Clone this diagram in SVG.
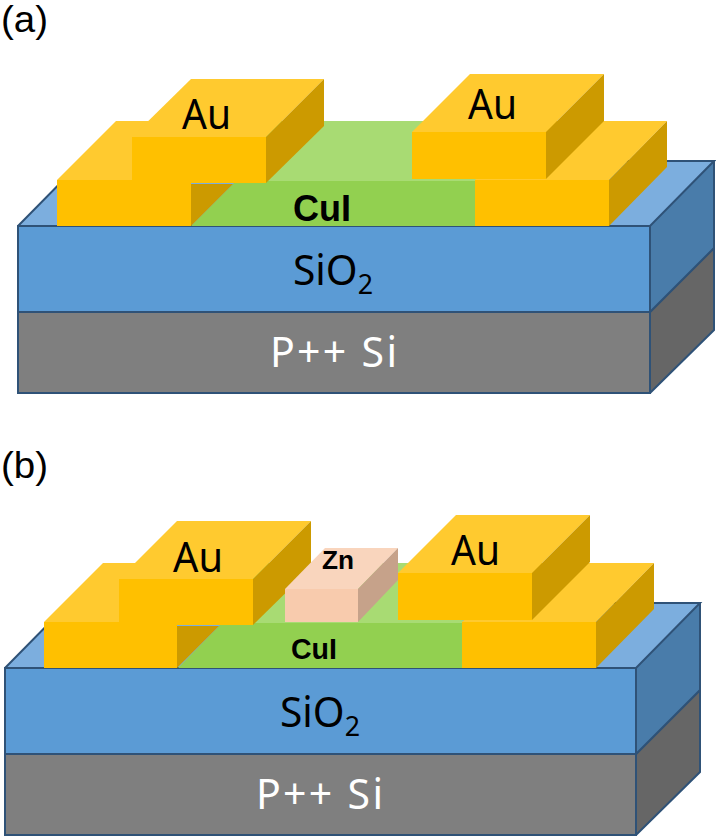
<svg xmlns="http://www.w3.org/2000/svg" width="716" height="839" viewBox="0 0 716 839">
<style>
text{font-family:"Noto Sans","Open Sans","Liberation Sans",sans-serif}
.st{fill:#7CAEDE}.sf{fill:#5B9BD5}.ss{fill:#497CAA}.gf{fill:#7F7F7F}.gs{fill:#666666}
.ol{fill:none;stroke:#2F5277;stroke-width:2;stroke-linejoin:miter}
.at{fill:#FFCA2F}.af{fill:#FFC000}.as{fill:#CC9A00}
.ct{fill:#A8DB73}.cf{fill:#92D050}
.zt{fill:#F9D5BD}.zf{fill:#F8CBAD}.zs{fill:#C6A28A}
.au{font-size:41px;fill:#000}.lb{font-size:41px}
.pl{font-size:36px;fill:#000;font-family:"Liberation Sans",Arial,sans-serif}
.bd{font-family:"Liberation Sans",Arial,sans-serif;font-weight:700;fill:#000}
</style>
<g id="label-a"><text class="pl" x="1" y="32" textLength="47" lengthAdjust="spacingAndGlyphs">(a)</text></g>
<g id="si-a">
<polygon class="gf" points="18,312 650,312 650,393 18,393"/>
<polygon class="gs" points="650,312 714,248 714,330 650,393"/>
<path class="ol" d="M18,312H650V393H18Z M650,312L714,248V330L650,393"/>
<text class="lb" x="270" y="367" fill="#fff" textLength="127">P++ Si</text>
</g>
<g id="sio2-a">
<polygon class="st" points="18,226 82,161 714,161 650,226"/>
<polygon class="sf" points="18,226 650,226 650,312 18,312"/>
<polygon class="ss" points="650,226 714,161 714,248 650,312"/>
<path class="ol" d="M18,226L82,161H714L650,226H18V312H650V226 M714,161V248L650,312"/>
<text class="lb" x="293" y="285" fill="#000" textLength="80" lengthAdjust="spacingAndGlyphs">SiO<tspan font-size="27" dy="9">2</tspan></text>
</g>
<g id="cui-a">
<polygon class="ct" points="191,181 251,121 500,121 476,181"/>
<polygon class="cf" points="191,226 236,181 476,181 476,226"/>
<text class="bd" x="293" y="221" font-size="36" textLength="58" lengthAdjust="spacingAndGlyphs">CuI</text>
</g>
<g id="au-a-lower-left">
<polygon class="at" points="57,180 116,121 250,121 191,180"/>
<polygon class="as" points="191,184 233,184 191,226"/>
<polygon class="af" points="57,180 191,180 191,226 57,226"/>
</g>
<g id="au-a-upper-left">
<polygon class="at" points="132,137 191,79 324,79 266,137"/>
<polygon class="as" points="266,137 324,79 324,126 266,183"/>
<polygon class="af" points="132,137 266,137 266,183 132,183"/>
<text class="au" x="182" y="129" textLength="49" lengthAdjust="spacingAndGlyphs">Au</text>
</g>
<g id="au-a-lower-right">
<polygon class="at" points="475,180 534,121 667,121 609,180"/>
<polygon class="as" points="609,180 667,121 667,167 609,226"/>
<polygon class="af" points="475,180 609,180 609,226 475,226"/>
</g>
<g id="au-a-upper-right">
<polygon class="at" points="412,132 470,74 604,74 546,132"/>
<polygon class="as" points="546,132 604,74 604,121 546,179"/>
<polygon class="af" points="412,132 546,132 546,179 412,179"/>
<text class="au" x="468" y="119" textLength="49" lengthAdjust="spacingAndGlyphs">Au</text>
</g>

<g id="label-b"><text class="pl" x="1" y="478" textLength="47" lengthAdjust="spacingAndGlyphs">(b)</text></g>
<g id="si-b">
<polygon class="gf" points="5,754 636,754 636,835 5,835"/>
<polygon class="gs" points="636,754 700,690 700,772 636,835"/>
<path class="ol" d="M5,754H636V835H5Z M636,754L700,690V772L636,835"/>
<text class="lb" x="256" y="809" fill="#fff" textLength="127">P++ Si</text>
</g>
<g id="sio2-b">
<polygon class="st" points="5,668 69,603 700,603 636,668"/>
<polygon class="sf" points="5,668 636,668 636,754 5,754"/>
<polygon class="ss" points="636,668 700,603 700,690 636,754"/>
<path class="ol" d="M5,668L69,603H700L636,668H5V754H636V668 M700,603V690L636,754"/>
<text class="lb" x="280" y="727" fill="#000" textLength="80" lengthAdjust="spacingAndGlyphs">SiO<tspan font-size="27" dy="9">2</tspan></text>
</g>
<g id="cui-b">
<polygon class="ct" points="178,623 238,563 486,563 462,623"/>
<polygon class="cf" points="178,668 222,623 462,623 462,668"/>
<text class="bd" x="291" y="659" font-size="29" textLength="46" lengthAdjust="spacingAndGlyphs">CuI</text>
</g>
<g id="au-b-lower-left">
<polygon class="at" points="44,622 103,563 236,563 177,622"/>
<polygon class="as" points="177,626 219,626 177,668"/>
<polygon class="af" points="44,622 177,622 177,668 44,668"/>
</g>
<g id="au-b-upper-left">
<polygon class="at" points="119,579 177,521 311,521 253,579"/>
<polygon class="as" points="253,579 311,521 311,568 253,625"/>
<polygon class="af" points="119,579 253,579 253,625 119,625"/>
<text class="au" x="173" y="572" textLength="50" lengthAdjust="spacingAndGlyphs">Au</text>
</g>
<g id="zn-b">
<polygon class="zt" points="285,589 325,548 398,548 358,589"/>
<polygon class="zs" points="358,589 398,548 398,580 358,622"/>
<polygon class="zf" points="285,589 358,589 358,622 285,622"/>
<text class="bd" x="322" y="569" font-size="26" textLength="32" lengthAdjust="spacingAndGlyphs">Zn</text>
</g>
<g id="au-b-lower-right">
<polygon class="at" points="462,622 521,563 654,563 596,622"/>
<polygon class="as" points="596,622 654,563 654,609 596,668"/>
<polygon class="af" points="462,622 596,622 596,668 462,668"/>
</g>
<g id="au-b-upper-right">
<polygon class="at" points="398,573 456,515 590,515 532,573"/>
<polygon class="as" points="532,573 590,515 590,562 532,620"/>
<polygon class="af" points="398,573 532,573 532,620 398,620"/>
<text class="au" x="451" y="565" textLength="49" lengthAdjust="spacingAndGlyphs">Au</text>
</g>
</svg>
